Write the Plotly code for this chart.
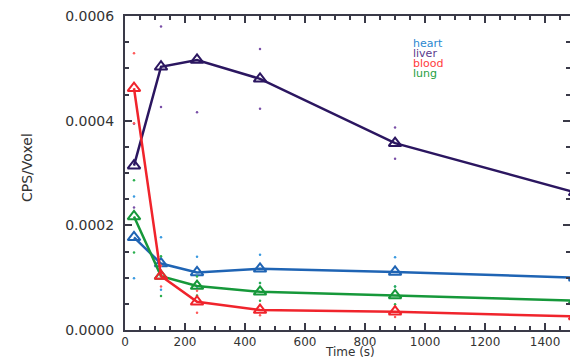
import plotly.graph_objects as go

time_s = [30, 120, 240, 450, 900, 1500]
heart = [0.000177, 0.000127, 0.000110, 0.000117, 0.000111, 0.000100]
liver = [0.000314, 0.000503, 0.000516, 0.000480, 0.000357, 0.000263]
blood = [0.000462, 0.000103, 0.000054, 0.000038, 0.000035, 0.000026]
lung = [0.000217, 0.000103, 0.000084, 0.000073, 0.000066, 0.000056]

heart_err = [0.000078, 0.000050, 0.000030, 0.000027, 0.000028, 0.000025]
liver_err = [0.000080, 0.000077, 0.000100, 0.000057, 0.000030, 0.000030]
blood_err = [0.000067, 0.000020, 0.000021, 0.000010, 0.000010, 0.000010]
lung_err = [0.000069, 0.000038, 0.000018, 0.000017, 0.000017, 0.000015]

series = [
    ("heart", heart, heart_err, "#1f64b4", "#3a9ae0"),
    ("lung", lung, lung_err, "#16983a", "#2cb050"),
    ("liver", liver, liver_err, "#2b1660", "#7a50a8"),
    ("blood", blood, blood_err, "#f0242c", "#ff5a5a"),
]

W, H = 570, 359
ml, mr, mt, mb = 125, 0, 16, 29

def px2paper(px, py):
    return (px - ml) / (W - ml - mr), 1 - (py - mt) / (H - mt - mb)

fig = go.Figure()
for name, vals, errs, col, dotcol in series:
    ex, ey = [], []
    for t, v, e in zip(time_s, vals, errs):
        ex += [t, t]
        ey += [v + e, v - e]
    fig.add_trace(go.Scatter(x=ex, y=ey, mode="markers",
                             marker=dict(size=2.5, color=dotcol),
                             showlegend=False, hoverinfo="skip"))
    fig.add_trace(go.Scatter(x=time_s, y=vals, mode="lines+markers", name=name,
                             line=dict(color=col, width=2.5),
                             marker=dict(symbol="triangle-up-open", size=11,
                                         color=col, line=dict(width=2, color=col)),
                             showlegend=False))

legend_items = [("heart", "#2a88d0"), ("liver", "#5a3a8c"), ("blood", "#ff3c3c"), ("lung", "#1ea040")]
for i, (txt, c) in enumerate(legend_items):
    ax, ay = px2paper(412, 44 + i * 9.7)
    fig.add_annotation(x=ax, y=ay, xref="paper", yref="paper", text=txt,
                       showarrow=False, xanchor="left", yanchor="middle",
                       borderpad=0,
                       font=dict(family="DejaVu Sans", size=11, color=c))

tx, ty = px2paper(350, 352)
fig.add_annotation(x=tx, y=ty, xref="paper", yref="paper", text="Time (s)",
                   showarrow=False, xanchor="center", yanchor="middle", borderpad=0,
                   font=dict(family="DejaVu Sans", size=12, color="#333333"))
yx, yy = px2paper(27, 168)
fig.add_annotation(x=yx, y=yy, xref="paper", yref="paper", text="CPS/Voxel",
                   showarrow=False, xanchor="center", yanchor="middle", textangle=-90,
                   font=dict(family="DejaVu Sans", size=14, color="#333333"))

axis_col = "#3a3a48"
fig.update_layout(
    width=W, height=H,
    margin=dict(l=ml, r=mr, t=mt, b=mb, autoexpand=False),
    paper_bgcolor="white", plot_bgcolor="white",
    font=dict(family="DejaVu Sans", size=12, color="#333333"),
    xaxis=dict(
        range=[0, 1483], tickmode="array",
        tickvals=[0, 200, 400, 600, 800, 1000, 1200, 1400],
        ticktext=["0", "200", "400", "600", "800", "1000", "1200", "1400"],
        ticks="inside", ticklen=7, tickwidth=1.5, tickcolor=axis_col,
        minor=dict(dtick=50, tick0=0, ticks="inside", ticklen=4, tickwidth=1.5, tickcolor=axis_col),
        showline=True, linecolor=axis_col, linewidth=2, mirror="ticks",
        showgrid=False, zeroline=False, automargin=False,
        tickfont=dict(size=12), ticklabelstandoff=0,
    ),
    yaxis=dict(
        range=[0, 0.0006], tickmode="array",
        tickvals=[0, 0.0002, 0.0004, 0.0006],
        ticktext=["0.0000", "0.0002", "0.0004", "0.0006"],
        ticks="inside", ticklen=7, tickwidth=1.5, tickcolor=axis_col,
        minor=dict(dtick=0.00005, tick0=0, ticks="inside", ticklen=4, tickwidth=1.5, tickcolor=axis_col),
        showline=True, linecolor=axis_col, linewidth=2, mirror="ticks",
        showgrid=False, zeroline=False, automargin=False,
        tickfont=dict(size=14), ticklabelstandoff=6,
    ),
)

fig.write_html(
    "out.html",
    config={"displayModeBar": False},
    post_script="document.body.style.margin='0';document.body.style.overflow='hidden';",
)
